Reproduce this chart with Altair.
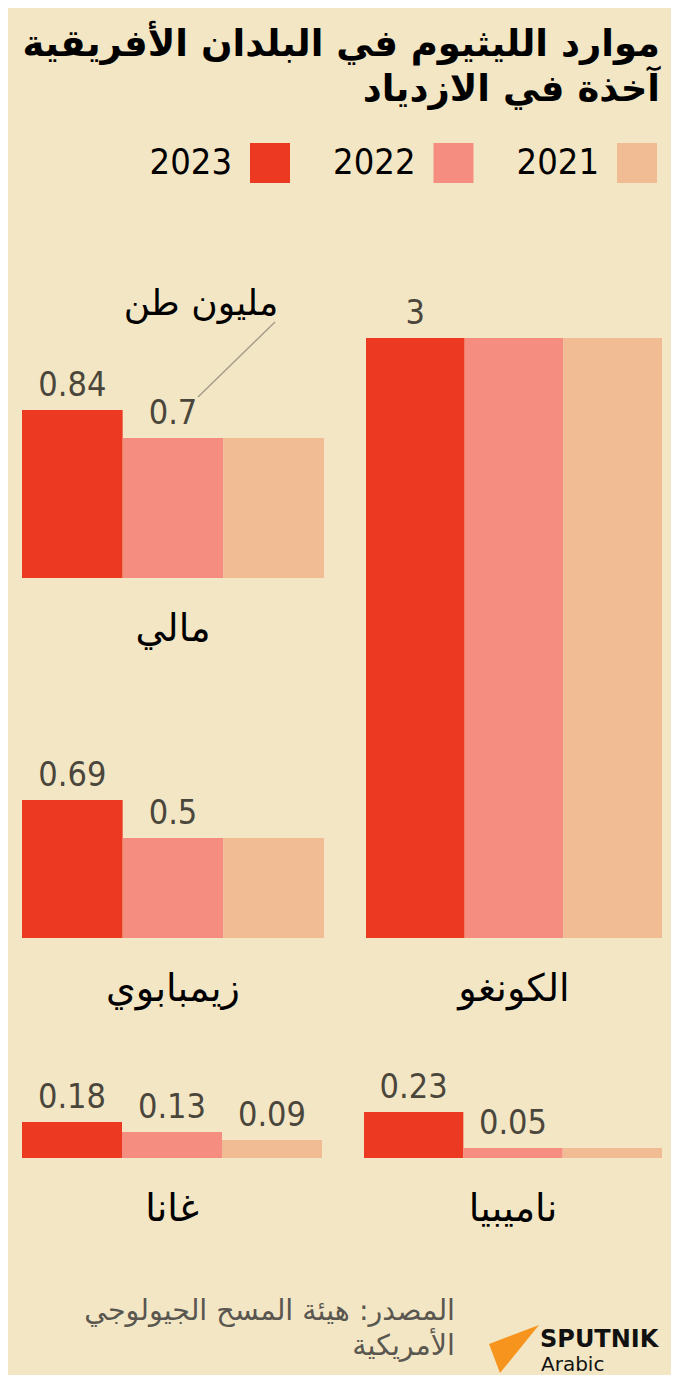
import altair as alt
import pandas as pd

# ---- data ----
countries = ["مالي", "زيمبابوي", "الكونغو", "غانا", "ناميبيا"]
years = ["2023", "2022", "2021"]
v2023 = [0.84, 0.69, 3, 0.18, 0.23]
v2022 = [0.7, 0.5, 3, 0.13, 0.05]
v2021 = [0.7, 0.5, 3, 0.09, 0.05]
colors = ["#ec3921", "#f58e80", "#f1bb94"]

title_lines = ["موارد الليثيوم في البلدان الأفريقية", "آخذة في الازدياد"]
unit_label = "مليون طن"
source_lines = ["المصدر: هيئة المسح الجيولوجي", "الأمريكية"]

BG = "#f3e6c4"
NUM_FONT = "DejaVu Sans Condensed, DejaVu Sans"
AR_FONT = "DejaVu Sans"
LABEL_COLOR = "#4b463c"
PX_PER_UNIT = 200.0

rows = []
for i, c in enumerate(countries):
    vals = [v2023[i], v2022[i], v2021[i]]
    for j, y in enumerate(years):
        v = vals[j]
        show = j == 0 or v != vals[j - 1]
        rows.append({"country": c, "year": y, "value": v,
                     "label": f"{v:g}" if show else ""})
df = pd.DataFrame(rows)

color_scale = alt.Scale(domain=years, range=colors)
one = pd.DataFrame({"k": [0]})


def panel(country, width, lo, hi, extra=None):
    height = (hi - lo) * PX_PER_UNIT
    d = df[df.country == country]
    yscale = alt.Scale(domain=[lo, hi], nice=False, zero=False)
    base = alt.Chart(d).encode(
        x=alt.X("year:N", sort=years, axis=None,
                scale=alt.Scale(paddingInner=0, paddingOuter=0)),
        y=alt.Y("value:Q", axis=None, scale=yscale),
    )
    bars = base.mark_bar(stroke=None).encode(
        y2=alt.Y2(datum=0),
        color=alt.Color("year:N", scale=color_scale, legend=None),
    )
    labels = base.mark_text(dy=-14, baseline="alphabetic", fontSize=34,
                            font=NUM_FONT, color=LABEL_COLOR).encode(
        text="label:N"
    )
    name = alt.Chart(pd.DataFrame({"country": [country]})).mark_text(
        fontSize=38, font=AR_FONT, color="#000000", baseline="middle",
        align="center").encode(
        text="country:N", x=alt.value(width / 2),
        y=alt.Y(datum=-0.26, scale=yscale, axis=None))
    layers = [bars, labels, name] + (extra or [])
    return alt.layer(*layers).properties(width=width, height=height)


# unit annotation in Mali panel
ann_text = alt.Chart(one).mark_text(text=unit_label, fontSize=36, font=AR_FONT,
                                    color="#000000", baseline="middle",
                                    align="center").encode(
    x=alt.value(179), y=alt.value(26))
ann_rule = alt.Chart(one).mark_rule(color="#a39e88", strokeWidth=1.5).encode(
    x=alt.value(253), y=alt.value(44), x2=alt.value(176), y2=alt.value(119))

mali = panel("مالي", 302, -0.4, 1.5, [ann_text, ann_rule])
zimb = panel("زيمبابوي", 302, -0.46, 1.4)
congo = panel("الكونغو", 296, -0.46, 3.3)
ghana = panel("غانا", 300, -0.46, 0.64)
namib = panel("ناميبيا", 298, -0.46, 0.64)

# ---- header: title + legend ----
t1 = alt.Chart(one).mark_text(text=title_lines[0], fontSize=37, fontWeight="bold",
                              font=AR_FONT, color="#000000", align="right",
                              baseline="middle").encode(
    x=alt.value(638), y=alt.value(37))
t2 = alt.Chart(one).mark_text(text=title_lines[1], fontSize=37, fontWeight="bold",
                              font=AR_FONT, color="#000000", align="right",
                              baseline="middle").encode(
    x=alt.value(638), y=alt.value(82))
leg_df = pd.DataFrame({"year": years})
leg_base = alt.Chart(leg_df).encode(
    x=alt.X("year:N", sort=years, axis=None,
            scale=alt.Scale(type="point", padding=0.7439, align=0.9084)),
    y=alt.value(155),
)
leg_sq = leg_base.mark_square(size=1600, opacity=1).encode(
    color=alt.Color("year:N", scale=color_scale, legend=None))
leg_tx = leg_base.mark_text(align="right", dx=-38, baseline="middle",
                            fontSize=36, font=NUM_FONT, color="#000000").encode(
    text="year:N")
header = alt.layer(t1, t2, leg_sq, leg_tx).properties(width=640, height=270)

# ---- footer: source + logo ----
s1 = alt.Chart(one).mark_text(text=source_lines[0], fontSize=28.5, font=AR_FONT,
                              color="#5a5650", align="right",
                              baseline="middle").encode(
    x=alt.value(433), y=alt.value(60))
s2 = alt.Chart(one).mark_text(text=source_lines[1], fontSize=28.5, font=AR_FONT,
                              color="#5a5650", align="right",
                              baseline="middle").encode(
    x=alt.value(433), y=alt.value(95))
logo_shape = "M -1 -0.2 L 1 -0.96 L -0.56 0.96 Z"
logo = alt.Chart(one).mark_point(shape=logo_shape, size=2500, filled=True,
                                 color="#f7941d", opacity=1,
                                 strokeWidth=0).encode(
    x=alt.value(492), y=alt.value(98))
sp = alt.Chart(one).mark_text(text="SPUTNIK", fontSize=24, fontWeight="bold",
                              font=AR_FONT, color="#111111", align="left",
                              baseline="alphabetic").encode(
    x=alt.value(518), y=alt.value(96))
ar = alt.Chart(one).mark_text(text="Arabic", fontSize=20, font=AR_FONT,
                              color="#111111", align="left",
                              baseline="alphabetic").encode(
    x=alt.value(519), y=alt.value(120))
footer = alt.layer(s1, s2, logo, sp, ar).properties(width=640, height=120)

body_top = alt.hconcat(alt.vconcat(mali, zimb, spacing=0), congo, spacing=42)
body_bottom = alt.hconcat(ghana, namib, spacing=42)

chart = alt.vconcat(header, body_top, body_bottom, footer,
                    spacing=0).properties(
    padding={"left": 14, "top": 0, "right": 9, "bottom": 0},
    background=BG,
).configure_view(stroke=None)

chart.save("out.html", embed_options={"renderer": "svg", "actions": False})
